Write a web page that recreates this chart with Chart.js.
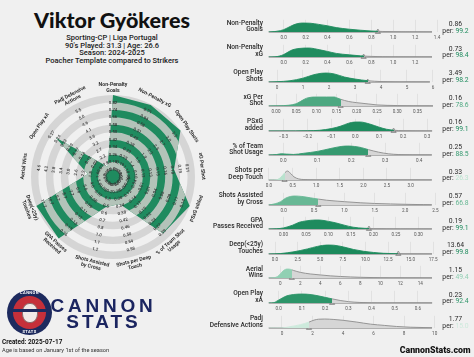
<!DOCTYPE html>
<html><head><meta charset="utf-8">
<script src="https://cdn.jsdelivr.net/npm/chart.js@4.4.1/dist/chart.umd.min.js"></script>
<style>
html,body{margin:0;padding:0;background:#f0f0f0;}
#wrap{position:relative;width:474px;height:357px;overflow:hidden;background:#f0f0f0;font-family:Roboto,'Noto Sans',sans-serif;color:#222;}
#wrap canvas{position:absolute;}
.t{position:absolute;white-space:pre;line-height:1;}
</style></head><body><div id="wrap"></div>
<script>
// ---------------- DATA ----------------
const radarLabels = [["Non-Penalty","Goals"],["Non-Penalty xG"],["Open Play Shots"],["xG Per Shot"],["PSxG added"],["% of Team Shot","Usage"],["Shots per Deep","Touch"],["Shots Assisted","by Cross"],["GPA Passes","Received"],["Deep(<25y)","Touches"],["Aerial Wins"],["Open Play xA"],["Padj Defensive","Actions"]];
// radius of each radar vertex, % of the outer ring
const radarRadius = [100,99,100,75,100,92,34,38,100,100,31,85,14];
const radarTickMin = [0.10,0.12,0.8,0.07,-0.09,0.07,0.22,0.1,0.04,2.6,1.0,0.04,1.3];
const radarTickMax = [0.82,0.71,3.3,0.21,0.14,0.29,0.58,1.2,0.16,11.7,4.6,0.27,5.5];
const radarTickDec = [2,2,1,2,2,2,2,1,2,1,1,2,1];

const rowLabels = [["Non-Penalty","Goals"],["Non-Penalty","xG"],["Open Play","Shots"],["xG Per","Shot"],["PSxG","added"],["% of Team","Shot Usage"],["Shots per","Deep Touch"],["Shots Assisted","by Cross"],["GPA","Passes Received"],["Deep(<25y)","Touches"],["Aerial","Wins"],["Open Play","xA"],["Padj","Defensive Actions"]];
const playerValues = [0.86,0.73,3.49,0.16,0.16,0.25,0.33,0.57,0.19,13.64,1.15,0.23,1.77];
const valueLabels = ["0.86","0.73","3.49","0.16","0.16","0.25","0.33","0.57","0.19","13.64","1.15","0.23","1.77"];
const percentiles = [99.2,98.4,98.2,78.6,99.1,88.5,26.3,66.8,99.1,99.8,49.4,92.4,15.0];
const percentileLabels = ["99.2","98.4","98.2","78.6","99.1","88.5","26.3","66.8","99.1","99.8","49.4","92.4","15.0"];

const axisTickLabels = [
 ["0.0","0.2","0.4","0.6","0.8","1.0","1.2","1.4"],
 ["0.0","0.2","0.4","0.6","0.8","1.0","1.2"],
 ["0","1","2","3","4","5","6"],
 ["0.00","0.05","0.10","0.15","0.20","0.25","0.30","0.35"],
 ["\u22120.3","\u22120.2","\u22120.1","0.0","0.1","0.2","0.3"],
 ["0.0","0.1","0.2","0.3","0.4"],
 ["0.0","0.5","1.0","1.5","2.0","2.5","3.0"],
 ["0.0","0.5","1.0","1.5","2.0","2.5"],
 ["0.00","0.05","0.10","0.15","0.20","0.25","0.30"],
 ["0.0","2.5","5.0","7.5","10.0","12.5","15.0","17.5"],
 ["0","2","4","6","8","10","12","14"],
 ["0.0","0.1","0.2","0.3","0.4","0.5","0.6"],
 ["0","2","4","6","8","10"]
];
const axisMin = [-0.198,-0.198,-0.577,-0.0347,-0.390,-0.0626,-0.148,-0.357,-0.0478,-1.438,-1.83,-0.072,-1.31];
const axisMax = [1.427,1.427,6.27,0.406,0.354,0.461,3.623,2.575,0.348,18.25,15.97,0.695,10.35];

const densityX = [
 [-0.137,-0.08,-0.03,0.0,0.06,0.11,0.17,0.24,0.32,0.40,0.48,0.60,0.70,0.80,0.90,1.00,1.15,1.354],
 [-0.137,-0.08,-0.04,0.0,0.04,0.08,0.14,0.23,0.33,0.40,0.48,0.60,0.70,0.77,0.90,1.05,1.354],
 [-0.32,0.0,0.5,1.0,1.4,1.7,1.9,2.2,2.6,3.0,3.5,4.0,4.5,5.0,5.88],
 [-0.018,0.005,0.03,0.05,0.07,0.08,0.10,0.125,0.145,0.15,0.16,0.18,0.20,0.23,0.25,0.30,0.35,0.3886],
 [-0.362,-0.25,-0.2,-0.15,-0.1,-0.06,-0.03,0.0,0.02,0.06,0.1,0.13,0.16,0.2,0.25,0.321],
 [-0.043,-0.02,-0.005,0.01,0.03,0.06,0.1,0.14,0.17,0.19,0.21,0.23,0.25,0.28,0.31,0.34,0.38,0.437],
 [-0.006,0.1,0.18,0.25,0.32,0.39,0.46,0.53,0.63,0.74,1.0,1.5,2.0,3.45],
 [-0.247,-0.14,-0.05,0.03,0.11,0.19,0.3,0.44,0.57,0.71,0.88,1.0,1.26,1.5,1.76,2.0,2.3,2.44],
 [-0.033,-0.015,0.0,0.02,0.035,0.05,0.07,0.08,0.1,0.115,0.135,0.155,0.18,0.2,0.23,0.26,0.33],
 [-0.7,0.6,2.1,3.6,4.7,5.8,6.5,7.6,8.7,9.8,10.9,12.0,13.6,15.0,17.37],
 [-1.16,-0.7,-0.3,0.0,0.3,0.7,1.0,1.3,2.0,3.0,4.0,5.0,6.0,7.0,8.0,10.0,12.0,15.17],
 [-0.0431,-0.02,-0.01,0.015,0.035,0.065,0.1,0.135,0.17,0.2,0.23,0.265,0.3,0.35,0.4,0.5,0.661],
 [-0.87,0.0,0.5,1.2,1.77,2.1,2.4,2.8,3.4,4.0,4.9,5.8,6.7,7.5,8.4,9.3,9.83]
];
const densityY = [
 [0,0.05,0.15,0.26,0.62,0.88,1.0,0.98,0.85,0.69,0.49,0.31,0.2,0.11,0.06,0.03,0.01,0],
 [0,0.02,0.1,0.27,0.55,0.8,0.95,1.0,0.8,0.62,0.4,0.24,0.13,0.08,0.03,0.01,0],
 [0,0.03,0.14,0.43,0.8,0.97,1.0,0.9,0.55,0.33,0.14,0.05,0.02,0.005,0],
 [0,0.02,0.08,0.25,0.75,0.93,1.0,1.0,1.0,0.92,0.75,0.5,0.37,0.22,0.12,0.05,0.01,0],
 [0,0.005,0.02,0.08,0.27,0.55,0.85,1.0,1.0,0.78,0.42,0.2,0.09,0.03,0.01,0],
 [0,0.05,0.14,0.1,0.06,0.19,0.4,0.73,0.95,1.0,0.95,0.82,0.6,0.32,0.13,0.05,0.01,0],
 [0,0.005,0.05,0.3,0.72,1.0,0.72,0.35,0.12,0.05,0.015,0.005,0.002,0],
 [0,0.14,0.37,0.75,0.95,1.0,0.95,0.8,0.66,0.53,0.43,0.37,0.25,0.17,0.12,0.08,0.04,0.01],
 [0,0.03,0.12,0.42,0.75,0.9,1.0,1.0,0.85,0.7,0.43,0.2,0.08,0.04,0.01,0.003,0],
 [0,0.05,0.25,0.57,0.85,1.0,0.98,0.78,0.5,0.3,0.17,0.08,0.03,0.01,0],
 [0,0.02,0.15,0.45,0.82,1.0,0.97,0.85,0.63,0.45,0.34,0.24,0.17,0.12,0.08,0.03,0.01,0],
 [0,0.04,0.18,0.55,0.8,0.95,1.0,0.95,0.8,0.63,0.46,0.28,0.15,0.06,0.02,0.003,0],
 [0,0.01,0.14,0.37,0.66,0.88,0.98,1.0,0.95,0.86,0.66,0.43,0.29,0.17,0.09,0.05,0.03]
];

// ---------------- STYLE ----------------
const FONT = "Roboto, 'Noto Sans', sans-serif";
const GREEN = '#1f8b5f';
const RING_GREY = '#d5d5d5';
const RING_LIGHT = '#b3c3b9';
const wrap = document.getElementById('wrap');
Chart.defaults.font.family = FONT;

function pctColor(p){
  const a=[232,245,238], b=[143,208,178], c=[28,138,92];
  let c1,c2,t;
  if(p<=50){c1=a;c2=b;t=p/50;} else {c1=b;c2=c;t=(p-50)/50;}
  const m=c1.map((v,i)=>Math.round(v+(c2[i]-v)*t));
  return 'rgb('+m.join(',')+')';
}
function addText(html,x,y,align,style){
  const d=document.createElement('div');
  d.className='t'; d.innerHTML=html;
  d.style.left=x+'px'; d.style.top=y+'px';
  const tx = align==='center'?'-50%':(align==='right'?'-100%':'0');
  d.style.transform='translate('+tx+',-50%)';
  d.style.textAlign=align;
  Object.assign(d.style,style||{});
  wrap.appendChild(d); return d;
}
function mkCanvas(x,y,w,h){
  const c=document.createElement('canvas'); c.width=w; c.height=h;
  c.style.left=x+'px'; c.style.top=y+'px'; c.style.width=w+'px'; c.style.height=h+'px';
  wrap.appendChild(c); return c;
}

// ---------------- HEADER TEXT ----------------
addText('Viktor Gyökeres',112,20.5,'center',{fontFamily:"Lato, Roboto, sans-serif",fontWeight:'900',fontSize:'21.5px',color:'#111'});
const sub=['Sporting-CP | Liga Portugal',"90's Played: 31.3 | Age: 26.6",'Season: 2024-2025','Poacher Template compared to Strikers'];
const subY=[38.3,45.5,52.7,60.5];
sub.forEach((s,i)=>addText(s,112,subY[i],'center',{fontSize:'7.5px',fontWeight:'500',color:'#1a1a1a'}));

// ---------------- RADAR ----------------
function ring(ctx,cx,cy,r0,r1,col){
  ctx.beginPath(); ctx.arc(cx,cy,r1,0,Math.PI*2); ctx.arc(cx,cy,r0,0,Math.PI*2,true);
  ctx.fillStyle=col; ctx.fill();
}
const radarDecor={
  id:'radarDecor',
  beforeDatasetsDraw(chart){
    const s=chart.scales.r, ctx=chart.ctx;
    ctx.save();
    for(let k=2;k<=10;k+=2) ring(ctx,s.xCenter,s.yCenter,s.getDistanceFromCenterForValue(k*100/11),s.getDistanceFromCenterForValue((k+1)*100/11),RING_GREY);
    ctx.restore();
  },
  afterDatasetsDraw(chart){
    const s=chart.scales.r, ctx=chart.ctx, pts=chart.getDatasetMeta(0).data;
    ctx.save();
    ctx.beginPath(); pts.forEach((p,i)=>i?ctx.lineTo(p.x,p.y):ctx.moveTo(p.x,p.y)); ctx.closePath(); ctx.clip();
    for(let k=1;k<=9;k+=2) ring(ctx,s.xCenter,s.yCenter,s.getDistanceFromCenterForValue(k*100/11),s.getDistanceFromCenterForValue((k+1)*100/11),RING_LIGHT);
    ctx.restore();
    ctx.save();
    ctx.textAlign='center'; ctx.textBaseline='middle';
    radarLabels.forEach((lab,i)=>{
      const ang=s.getIndexAngle(i); const deg=ang*180/Math.PI;
      let rot = (deg>90 && deg<270)? deg-180 : (deg>=270? deg-360: deg);
      rot*=Math.PI/180;
      ctx.font='500 4.3px '+FONT; ctx.fillStyle='#333';
      for(let k=1;k<=10;k++){
        const v=radarTickMin[i]+(radarTickMax[i]-radarTickMin[i])*(k-1)/9;
        const p=s.getPointPosition(i,s.getDistanceFromCenterForValue(k*100/11));
        ctx.save(); ctx.translate(p.x,p.y); ctx.rotate(rot);
        ctx.fillText(v.toFixed(radarTickDec[i]).replace('-','\u2212'),0,0); ctx.restore();
      }
      ctx.font='600 5.2px '+FONT; ctx.fillStyle='#222';
      const p=s.getPointPosition(i,s.drawingArea+7.5);
      ctx.save(); ctx.translate(p.x,p.y); ctx.rotate(rot);
      const lh=5.6, n=lab.length;
      lab.forEach((l,j)=>ctx.fillText(l,0,(j-(n-1)/2)*lh));
      ctx.restore();
    });
    ctx.restore();
  }
};
const rc=mkCanvas(0,70,228,216);
new Chart(rc,{
  type:'radar',
  data:{labels:radarLabels.map(l=>l.join(' ')),datasets:[{data:radarRadius,backgroundColor:GREEN,borderWidth:0,pointRadius:0,fill:true}]},
  options:{animation:false,responsive:false,events:[],layout:{padding:{left:31,right:32,top:25,bottom:26}},
    plugins:{legend:{display:false},tooltip:{enabled:false}},
    scales:{r:{min:0,max:100,ticks:{display:false},grid:{display:false},angleLines:{display:false},pointLabels:{display:false}}}},
  plugins:[radarDecor]
});

// ---------------- DENSITY ROWS ----------------
function split(chart,value,left,right){
  const {ctx,chartArea,scales}=chart;
  if(!chartArea) return left;
  const px=scales.x.getPixelForValue(value);
  let f=(px-chartArea.left)/(chartArea.right-chartArea.left); f=Math.min(Math.max(f,0),1);
  const g=ctx.createLinearGradient(chartArea.left,0,chartArea.right,0);
  g.addColorStop(0,left); g.addColorStop(f,left); g.addColorStop(f,right); g.addColorStop(1,right);
  return g;
}
const CAN_LEFT=250, CAN_W=200, AREA_H=17, AXIS_H=10;
rowLabels.forEach((lab,i)=>{
  const base=32.3+24.6*i;
  const col=pctColor(percentiles[i]);
  const tickVals=axisTickLabels[i].map(s=>parseFloat(s.replace('\u2212','-')));
  const pts=densityX[i].map((x,j)=>({x:x,y:densityY[i][j]}));
  const xs=densityX[i];
  const c=mkCanvas(CAN_LEFT,base-AREA_H,CAN_W,AREA_H+AXIS_H);
  new Chart(c,{
    type:'line',
    data:{datasets:[
      {data:pts,fill:'origin',cubicInterpolationMode:'monotone',pointRadius:0,borderWidth:0.9,
        backgroundColor:(ctx)=>split(ctx.chart,playerValues[i],col,'#d6d6d6'),
        borderColor:(ctx)=>split(ctx.chart,playerValues[i],col,'#8c8c8c')},
      {data:[{x:xs[0],y:0},{x:xs[xs.length-1],y:0}],borderColor:'#707070',borderWidth:1.1,pointRadius:0,fill:false,clip:false},
      {data:[{x:playerValues[i],y:0}],showLine:false,pointStyle:'triangle',pointRadius:3,backgroundColor:'#d0d0d0',borderColor:'#8a8a8a',borderWidth:0.8,clip:false}
    ]},
    options:{animation:false,responsive:false,events:[],
      layout:{padding:{left:12,right:10,top:0,bottom:0}},
      plugins:{legend:{display:false},tooltip:{enabled:false}},
      scales:{
        x:{type:'linear',min:axisMin[i],max:axisMax[i],
          afterBuildTicks:(s)=>{s.ticks=tickVals.map(v=>({value:v}));},
          afterFit:(s)=>{s.height=AXIS_H;s.paddingLeft=0;s.paddingRight=0;},
          ticks:{autoSkip:false,maxRotation:0,minRotation:0,padding:3,color:'#555',font:{size:4.6,family:FONT},
            callback:(v,idx)=>axisTickLabels[i][idx]},
          grid:{drawTicks:false,color:'rgba(0,0,0,0.09)',lineWidth:0.7},
          border:{display:false}},
        y:{display:false,min:0,max:1.36}
      }}
  });
  addText(lab[0]+'<br>'+lab[1],263,base-5.6,'right',{fontSize:'6.6px',fontWeight:'500',color:'#2a2a2a',lineHeight:'6.8px'});
  addText(valueLabels[i],455.5,base-8.3,'center',{fontSize:'6.8px',color:'#2a2a2a'});
  addText('per: <span style="color:'+col+'">'+percentileLabels[i]+'</span>',455.5,base-1.6,'center',{fontSize:'6.8px',color:'#2a2a2a'});
});

// ---------------- FOOTER / LOGO ----------------
function box(x,y,w,h,st){const d=document.createElement('div');d.style.position='absolute';d.style.left=x+'px';d.style.top=y+'px';d.style.width=w+'px';d.style.height=h+'px';Object.assign(d.style,st);wrap.appendChild(d);return d;}
box(7,290,45,45,{background:'#1d2a5e',borderRadius:'50%'});
box(13,296,33,33,{background:'#c5303a',borderRadius:'50%'});
box(22,303,14,18,{background:'#f1e9e6',borderRadius:'45%',border:'0.6px solid #8a6a6a'});
box(11,308.5,37,3.6,{background:'#1d2a5e',borderRadius:'2px'});
addText('CANNON',29.5,293.3,'center',{fontSize:'4px',fontWeight:'700',color:'#fff',letterSpacing:'0.4px'});
addText('STATS',29.5,332,'center',{fontSize:'4px',fontWeight:'700',color:'#fff',letterSpacing:'0.4px'});
addText('CANNON',103.5,305,'center',{fontFamily:"'Liberation Sans',Arial,sans-serif",fontSize:'19px',fontWeight:'700',color:'#1b2560',letterSpacing:'3.8px'});
addText('STATS',103.5,320.5,'center',{fontFamily:"'Liberation Sans',Arial,sans-serif",fontSize:'19px',fontWeight:'700',color:'#1b2560',letterSpacing:'3px'});
addText('Created: 2025-07-17',2,342,'left',{fontSize:'6.4px',fontWeight:'700',color:'#111'});
addText('Age is based on January 1st of the season',2,351.3,'left',{fontSize:'5.7px',color:'#333'});
addText('CannonStats.com',470.5,350,'right',{fontSize:'8.8px',fontWeight:'900',color:'#111'});
</script></body></html>
